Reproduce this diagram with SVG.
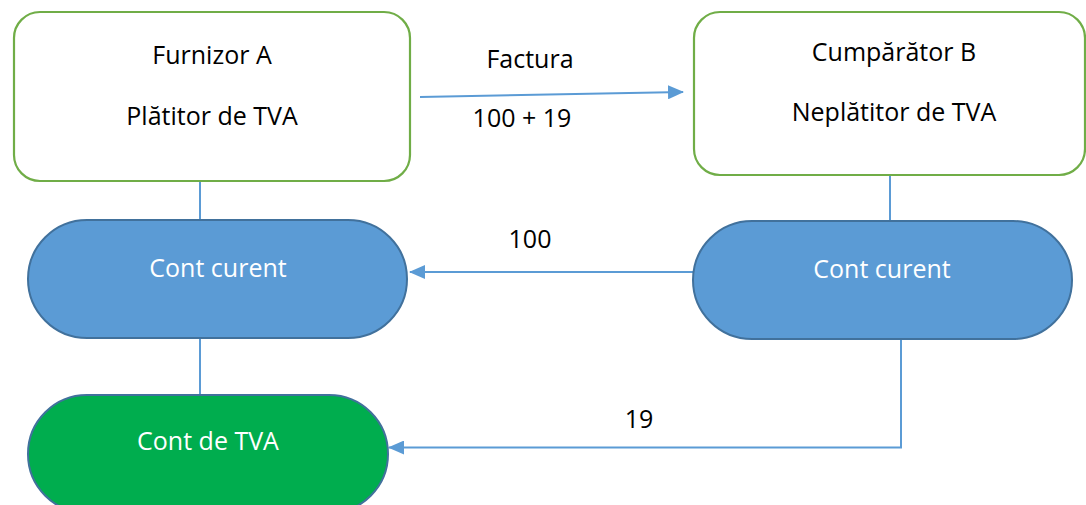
<svg xmlns="http://www.w3.org/2000/svg" width="1086" height="505" viewBox="0 0 1086 505">
<style>
.box{fill:#fff;stroke:#70AD47;stroke-width:2.2}
.pill{fill:#5B9BD5;stroke:#41719C;stroke-width:2}
.tva{fill:#00AD4E;stroke:#41719C;stroke-width:2}
.t{font-family:"Open Sans","Liberation Sans",sans-serif;font-size:25px;fill:#000;text-anchor:middle}
.w{fill:#fff}
.c{stroke:#5B9BD5;stroke-width:2;fill:none}
</style>
<defs>
<marker id="ah2" markerWidth="16" markerHeight="14" refX="15" refY="7" orient="auto" markerUnits="userSpaceOnUse" viewBox="0 0 16 14">
<path d="M0,0 L16,7 L0,14 Z" fill="#5B9BD5"/>
</marker>
</defs>
<g id="connectors">
<line class="c" x1="200" y1="181" x2="200" y2="221"/>
<line class="c" x1="200" y1="338" x2="200" y2="396"/>
<line class="c" x1="890" y1="175" x2="890" y2="222"/>
<line class="c" x1="420" y1="97" x2="683" y2="92" marker-end="url(#ah2)"/>
<line class="c" x1="693" y1="272" x2="410" y2="272" marker-end="url(#ah2)"/>
<polyline class="c" points="901,339 901,447.5 389,447.5" marker-end="url(#ah2)"/>
</g>
<g id="furnizor">
<rect class="box" x="14" y="12" width="396" height="169" rx="26"/>
<text class="t" x="212" y="64">Furnizor A</text>
<text class="t" x="212" y="125">Plătitor de TVA</text>
</g>
<g id="cumparator">
<rect class="box" x="694" y="12" width="391" height="163" rx="26"/>
<text class="t" x="894" y="61">Cumpărător B</text>
<text class="t" x="894" y="121">Neplătitor de TVA</text>
</g>
<g id="cont-curent-a">
<rect class="pill" x="28" y="220" width="379" height="118" rx="59"/>
<text class="t w" x="218" y="277">Cont curent</text>
</g>
<g id="cont-curent-b">
<rect class="pill" x="693" y="221" width="379" height="118" rx="59"/>
<text class="t w" x="882" y="278">Cont curent</text>
</g>
<g id="cont-tva">
<rect class="tva" x="28" y="395" width="360" height="118" rx="59"/>
<text class="t w" x="208" y="450">Cont de TVA</text>
</g>
<g id="labels">
<text class="t" x="530" y="68">Factura</text>
<text class="t" x="522" y="127">100 + 19</text>
<text class="t" x="530" y="248">100</text>
<text class="t" x="639" y="428">19</text>
</g>
</svg>
